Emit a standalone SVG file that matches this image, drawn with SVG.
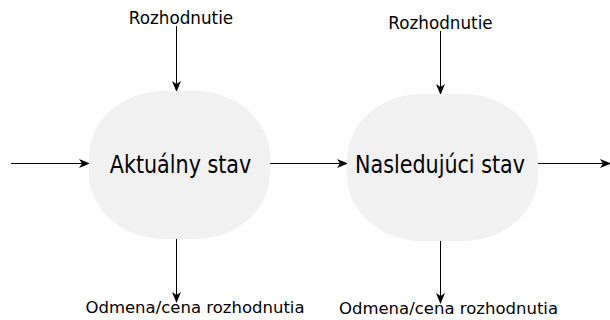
<svg xmlns="http://www.w3.org/2000/svg" width="610" height="320" viewBox="0 0 610 320">
<style>
.node{fill:#f1f1f1;stroke:none}
.main{font-family:"DejaVu Sans Condensed","DejaVu Sans",sans-serif;font-size:23px;fill:#000;text-anchor:middle}
.lbl{font-family:"DejaVu Sans",sans-serif;font-size:16.8px;fill:#000;text-anchor:middle}
.lbl2{font-family:"DejaVu Sans",sans-serif;font-size:16.5px;fill:#000;text-anchor:middle}
.edge{stroke:#000;stroke-width:1;fill:none;marker-end:url(#ah)}
</style>
<defs>
<marker id="ah" markerWidth="12" markerHeight="10" refX="10" refY="4.5" orient="auto" markerUnits="userSpaceOnUse" viewBox="0 0 12 9">
<path d="M0,0 L11,4.5 L0,9 L3,4.5 Z" fill="#000"/>
</marker>
</defs>
<g id="connectors">
<line class="edge" x1="11" y1="163.5" x2="89" y2="163.5"/>
<line class="edge" x1="270" y1="163.5" x2="347" y2="163.5"/>
<line class="edge" x1="538" y1="163.5" x2="610" y2="163.5"/>
<line class="edge" x1="176.5" y1="26" x2="176.5" y2="91"/>
<line class="edge" x1="176.5" y1="239" x2="176.5" y2="302"/>
<line class="edge" x1="440.5" y1="31" x2="440.5" y2="94"/>
<line class="edge" x1="440.5" y1="241" x2="440.5" y2="303"/>
</g>
<g id="node-aktualny">
<rect class="node" x="89" y="91" width="181" height="148" rx="75" ry="66"/>
<text class="main" transform="translate(180.5 173) scale(1 1.08)" x="0" y="0">Aktuálny stav</text>
</g>
<g id="node-nasledujuci">
<rect class="node" x="347" y="94" width="191" height="147" rx="75" ry="66"/>
<text class="main" transform="translate(440 173) scale(1 1.08)" x="0" y="0">Nasledujúci stav</text>
</g>
<g id="label-rozhodnutie-1">
<text class="lbl" x="181" y="24">Rozhodnutie</text>
</g>
<g id="label-odmena-1">
<text class="lbl2" x="195" y="313">Odmena/cena rozhodnutia</text>
</g>
<g id="label-rozhodnutie-2">
<text class="lbl" x="440.5" y="29">Rozhodnutie</text>
</g>
<g id="label-odmena-2">
<text class="lbl2" x="448.5" y="314">Odmena/cena rozhodnutia</text>
</g>
</svg>
